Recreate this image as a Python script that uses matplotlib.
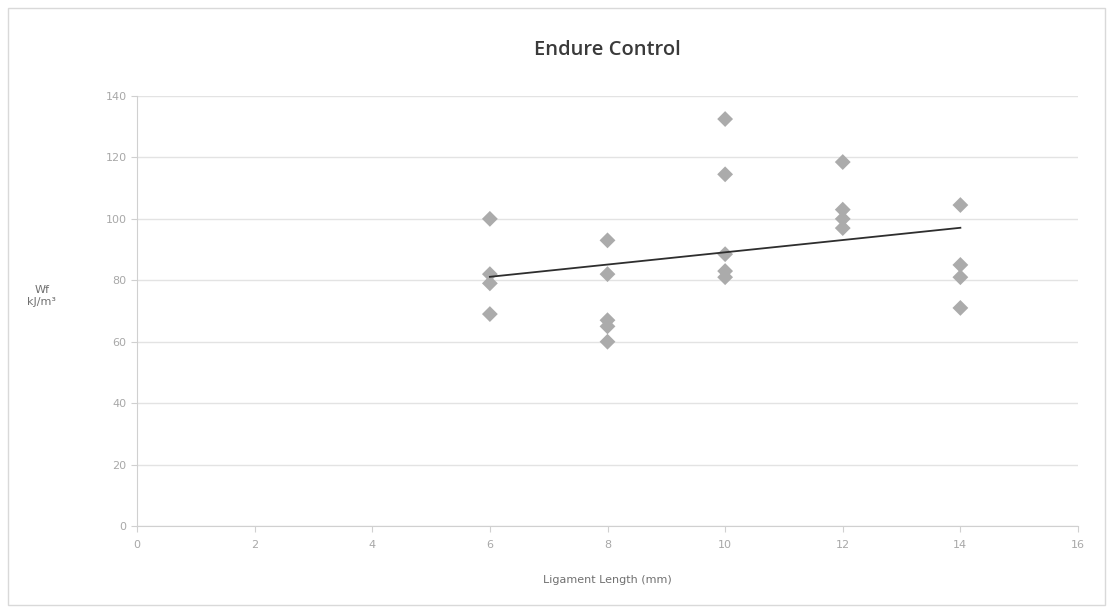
import numpy as np
import matplotlib
matplotlib.use("Agg")
import matplotlib.pyplot as plt
from matplotlib.patches import Rectangle

title = "Endure Control"
x_label = "Ligament Length (mm)"
y_label = "Wf\nkJ/m³"

ligament_mm = [6, 6, 6, 6,
               8, 8, 8, 8, 8,
               10, 10, 10, 10, 10,
               12, 12, 12, 12,
               14, 14, 14, 14]
wf_kj_m2 = [100, 82, 79, 69,
            93, 82, 67, 65, 60,
            132.5, 114.5, 88.5, 83, 81,
            118.5, 103, 100, 97,
            104.5, 85, 81, 71]

x_ticks = [0, 2, 4, 6, 8, 10, 12, 14, 16]
y_ticks = [0, 20, 40, 60, 80, 100, 120, 140]

W, H = 1114, 613
fig = plt.figure(figsize=(W / 100, H / 100), dpi=100)
fig.patch.set_facecolor("white")
fig.add_artist(Rectangle((8 / W, 8 / H), 1097 / W, 597 / H, transform=fig.transFigure,
                         fill=False, edgecolor="#d9d9d9", linewidth=1.0))

ax = fig.add_axes([137 / W, 1 - 526 / H, (1078 - 137) / W, (526 - 96) / H])
ax.set_xlim(0, 16)
ax.set_ylim(0, 140)
ax.set_xticks(x_ticks)
ax.set_yticks(y_ticks)
ax.grid(axis="y", color="#e3e3e3", linewidth=1.0)
ax.set_axisbelow(True)
for s in ["top", "right"]:
    ax.spines[s].set_visible(False)
for s in ["left", "bottom"]:
    ax.spines[s].set_color("#d0d0d0")
ax.tick_params(axis="both", colors="#d0d0d0", labelcolor="#a8a8a8", labelsize=8, length=4)
ax.tick_params(axis="x", pad=6)

ax.scatter(ligament_mm, wf_kj_m2, marker="D", s=65, color="#ababab", edgecolors="none", zorder=3)

coef = np.polyfit(ligament_mm, wf_kj_m2, 1)
xl = np.array([min(ligament_mm), max(ligament_mm)])
ax.plot(xl, np.polyval(coef, xl), color="#2e2e2e", linewidth=1.3, zorder=4)

fig.text(607 / W, 1 - 50 / H, title, ha="center", va="center", fontsize=14.5,
         color="#3a3a3a", family="Open Sans", weight="semibold")
fig.text(607 / W, 1 - 580 / H, x_label, ha="center", va="center", fontsize=8,
         color="#707070")
fig.text(42 / W, 1 - 296 / H, y_label, ha="center", va="center", fontsize=8,
         color="#707070", linespacing=1.3)

fig.savefig("out.png", dpi=100, facecolor="white")
